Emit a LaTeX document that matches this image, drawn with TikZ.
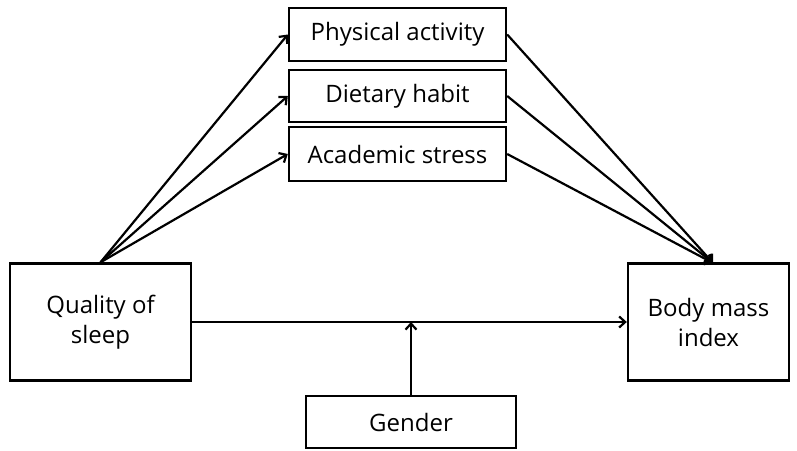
\documentclass[tikz,border=0pt]{standalone}
\usepackage{fontspec}
\setmainfont{Open Sans}
\usetikzlibrary{arrows.meta}

\begin{document}
\begin{tikzpicture}[x=1pt, y=-1pt,
    box/.style = {draw, line width=2.4pt, align=center, inner sep=0pt,
                  font=\fontsize{24}{30}\selectfont},
    link/.style = {line width=2.2pt, -{Straight Barb[length=6pt, width=11pt]}}]

\useasboundingbox (0, 0) rectangle (797, 450);

\node[box, minimum width=181, minimum height=117] (sleep) at (100.5, 322) {Quality of\\sleep};
\node[box, minimum width=217, minimum height=53] (activity) at (397.5, 34.5) {Physical activity};
\node[box, minimum width=217, minimum height=52] (diet) at (397.5, 96) {Dietary habit};
\node[box, minimum width=217, minimum height=54] (stress) at (397.5, 154) {Academic stress};
\node[box, minimum width=161, minimum height=117] (bmi) at (708.5, 322) {Body mass\\index};
\node[box, minimum width=210, minimum height=52] (gender) at (411, 422) {Gender};

\coordinate (bmitop) at (713, 263);

\draw[link] (sleep.north) -- (activity.west);
\draw[link] (sleep.north) -- (diet.west);
\draw[link] (sleep.north) -- (stress.west);

\draw[link] (activity.east) -- (bmitop);
\draw[link] (diet.east) -- (bmitop);
\draw[link] (stress.east) -- (bmitop);

\draw[link] (sleep.east) -- (bmi.west);
\draw[link] (gender.north) -- (gender.north |- sleep.east);

\end{tikzpicture}
\end{document}
